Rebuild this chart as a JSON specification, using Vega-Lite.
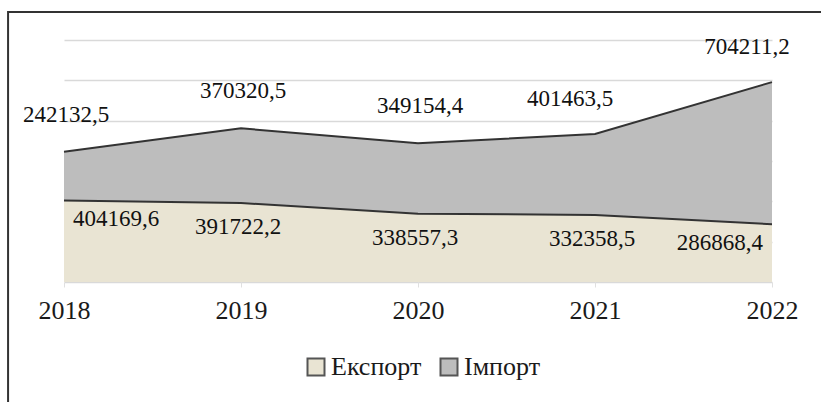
{
  "$schema": "https://vega.github.io/schema/vega-lite/v6.json",
  "autosize": "none",
  "width": 708,
  "height": 242,
  "padding": {"left": 64, "top": 40, "right": 49, "bottom": 120},
  "background": "#ffffff",
  "config": {
    "view": {"stroke": null},
    "font": "Liberation Serif",
    "text": {"font": "Liberation Serif"}
  },
  "data": {
    "values": [
      {"year": 2018, "series": "Експорт", "value": 404169.6, "label": "404169,6"},
      {"year": 2019, "series": "Експорт", "value": 391722.2, "label": "391722,2"},
      {"year": 2020, "series": "Експорт", "value": 338557.3, "label": "338557,3"},
      {"year": 2021, "series": "Експорт", "value": 332358.5, "label": "332358,5"},
      {"year": 2022, "series": "Експорт", "value": 286868.4, "label": "286868,4"},
      {"year": 2018, "series": "Імпорт", "value": 242132.5, "label": "242132,5"},
      {"year": 2019, "series": "Імпорт", "value": 370320.5, "label": "370320,5"},
      {"year": 2020, "series": "Імпорт", "value": 349154.4, "label": "349154,4"},
      {"year": 2021, "series": "Імпорт", "value": 401463.5, "label": "401463,5"},
      {"year": 2022, "series": "Імпорт", "value": 704211.2, "label": "704211,2"}
    ]
  },
  "layer": [
    {
      "data": {"values": [{"frame": 1}]},
      "mark": {"type": "rect", "filled": false, "stroke": "#333333", "strokeWidth": 2, "clip": false},
      "encoding": {
        "x": {
          "datum": 2017.684, "type": "quantitative",
          "scale": {"domain": [2018, 2022], "nice": false, "zero": false},
          "axis": {
            "title": null, "values": [2018, 2019, 2020, 2021, 2022], "format": "d",
            "domain": false, "grid": false, "tickColor": "#e0e0e0", "tickSize": 5,
            "labelFont": "Liberation Serif", "labelFontSize": 26, "labelColor": "#1a1a1a",
            "labelPadding": 10, "labelFlush": false
          }
        },
        "x2": {"datum": 2023.5},
        "y": {
          "datum": 1338700, "type": "quantitative",
          "scale": {"domain": [0, 1200000], "nice": false},
          "axis": {
            "title": null, "labels": false, "ticks": false, "domain": false, "grid": true,
            "values": [0, 200000, 400000, 600000, 800000, 1000000, 1200000],
            "gridColor": "#d9d9d9", "gridWidth": 1.5
          }
        },
        "y2": {"datum": -700000}
      }
    },
    {
      "transform": [
        {"stack": "value", "groupby": ["year"], "sort": [{"field": "series", "order": "descending"}], "as": ["v0", "v1"]}
      ],
      "encoding": {
        "x": {"field": "year", "type": "quantitative"}
      },
      "layer": [
        {
          "mark": {"type": "area", "opacity": 1},
          "encoding": {
            "y": {"field": "v1", "type": "quantitative"},
            "y2": {"field": "v0"},
            "color": {
              "field": "series", "type": "nominal",
              "scale": {"domain": ["Експорт", "Імпорт"], "range": ["#e9e4d3", "#bdbdbd"]},
              "legend": {
                "title": null, "orient": "none", "direction": "horizontal",
                "legendX": 239, "legendY": 314,
                "symbolType": "square", "symbolSize": 289,
                "symbolStrokeColor": "#555555", "symbolStrokeWidth": 2,
                "labelFont": "Liberation Serif", "labelFontSize": 26, "labelColor": "#1a1a1a",
                "labelOffset": 2, "columnPadding": 14
              }
            }
          }
        },
        {
          "mark": {"type": "line", "color": "#333333", "strokeWidth": 2},
          "encoding": {
            "y": {"field": "v1", "type": "quantitative"},
            "detail": {"field": "series"}
          }
        },
        {
          "transform": [{"filter": "datum.series == 'Імпорт' && datum.year <= 2020"}],
          "mark": {"type": "text", "fontSize": 23, "baseline": "middle", "align": "center", "dy": -37, "dx": 2, "color": "#111111"},
          "encoding": {"y": {"field": "v1", "type": "quantitative"}, "text": {"field": "label"}}
        },
        {
          "transform": [{"filter": "datum.series == 'Імпорт' && datum.year >= 2021"}],
          "mark": {"type": "text", "fontSize": 23, "baseline": "middle", "align": "center", "dy": -35, "dx": -25, "color": "#111111"},
          "encoding": {"y": {"field": "v1", "type": "quantitative"}, "text": {"field": "label"}}
        },
        {
          "transform": [{"filter": "datum.series == 'Експорт' && datum.year == 2018"}],
          "mark": {"type": "text", "fontSize": 23, "baseline": "middle", "align": "left", "dy": 19, "dx": 9, "color": "#111111"},
          "encoding": {"y": {"field": "v1", "type": "quantitative"}, "text": {"field": "label"}}
        },
        {
          "transform": [{"filter": "datum.series == 'Експорт' && datum.year > 2018 && datum.year < 2022"}],
          "mark": {"type": "text", "fontSize": 23, "baseline": "middle", "align": "center", "dy": 24, "dx": -3, "color": "#111111"},
          "encoding": {"y": {"field": "v1", "type": "quantitative"}, "text": {"field": "label"}}
        },
        {
          "transform": [{"filter": "datum.series == 'Експорт' && datum.year == 2022"}],
          "mark": {"type": "text", "fontSize": 23, "baseline": "middle", "align": "right", "dy": 19, "dx": -9, "color": "#111111"},
          "encoding": {"y": {"field": "v1", "type": "quantitative"}, "text": {"field": "label"}}
        }
      ]
    }
  ]
}
